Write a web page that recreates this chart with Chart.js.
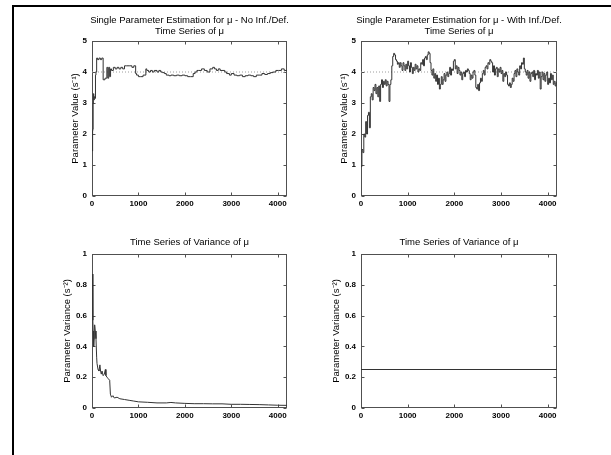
<!DOCTYPE html>
<html>
<head>
<meta charset="utf-8">
<script src="https://cdn.jsdelivr.net/npm/chart.js@4/dist/chart.umd.min.js"></script>
<style>
  html, body { margin: 0; padding: 0; background: #fff; }
  body { width: 611px; height: 455px; position: relative; overflow: hidden; }
  #frame { position: absolute; left: 12px; top: 5px; width: 640px; height: 480px;
           border-top: 2px solid #000; border-left: 2px solid #000; }
  canvas { position: absolute; }
</style>
</head>
<body>
<div id="frame"></div>
<canvas id="muNoInfChart" width="287" height="220" style="left:20px;top:0px"></canvas>
<canvas id="muWithChart" width="288" height="220" style="left:289px;top:0px"></canvas>
<canvas id="varNoInfChart" width="287" height="220" style="left:20px;top:212px"></canvas>
<canvas id="varWithChart" width="288" height="220" style="left:289px;top:212px"></canvas>
<script>
// ---- estimated parameter mu, no inflation/deflation ----
const muNoInfTime = [10,13,17,25,30,40,50,65,75,85,
  100,120,150,180,210,240,280,320,340,360,
  380,400,420,460,500,540,580,620,660,700,
  740,800,860,900,940,960,1000,1040,1100,1160,
  1180,1220,1260,1300,1340,1400,1440,1480,1520,1560,
  1600,1660,1700,1760,1820,1880,1940,2000,2060,2120,
  2180,2220,2260,2300,2360,2420,2480,2540,2600,2640,
  2680,2720,2760,2800,2860,2900,2960,3000,3060,3120,
  3180,3240,3300,3360,3420,3480,3540,3600,3660,3720,
  3780,3840,3900,3960,4020,4080,4140,4200];
const muNoInf = [1.5,1.45,2.1,2.15,3.0,3.3,3.1,3.2,3.15,3.9,
  4.0,4.45,4.4,4.45,4.4,4.45,3.75,3.8,4.15,3.8,
  4.15,3.85,4.1,4.05,4.15,4.1,4.15,4.1,4.15,4.1,
  4.2,4.2,4.2,4.15,4.2,3.95,3.9,3.85,3.85,3.9,
  4.1,4.05,4.0,4.05,4.0,4.05,4.0,4.05,4.0,3.98,
  3.95,3.9,3.88,3.9,3.88,3.9,3.88,3.9,3.88,3.85,
  3.85,3.95,4.0,4.05,4.05,4.1,4.05,4.0,4.1,4.15,
  4.1,4.05,4.1,4.05,4.05,4.0,3.95,3.9,3.95,3.9,
  3.88,3.9,3.85,3.88,3.9,3.88,3.85,3.9,3.9,3.95,
  3.92,3.95,3.98,4.0,4.05,4.05,4.1,4.05];

// ---- estimated parameter mu, with inflation/deflation (one sample every 20 s) ----
const muWithStep = 20;
const muWith = [1.0,0.95,1.5,1.4,2.0,1.9,2.4,2.0,2.6,2.7,
  2.2,3.2,3.3,3.1,3.5,3.4,3.6,3.3,3.5,3.2,
  3.55,3.05,3.6,3.75,3.5,3.7,3.6,3.75,3.55,3.7,
  3.6,3.05,3.6,3.75,4.2,4.5,4.6,4.55,4.4,4.35,
  4.25,4.3,4.15,4.3,4.2,4.05,4.3,4.2,4.05,4.25,
  4.1,4.35,4.2,4.0,4.3,4.15,3.95,4.15,4.05,4.25,
  4.1,4.2,4.0,4.1,4.05,4.3,4.25,4.4,4.2,4.45,
  4.5,4.4,4.55,4.65,4.6,4.3,4.05,3.9,4.1,3.8,
  3.95,3.7,3.9,3.6,3.8,3.45,3.6,3.85,3.6,3.75,
  3.95,3.7,3.9,4.0,3.85,3.95,4.15,3.9,4.1,4.05,
  4.35,4.4,4.1,4.2,3.95,4.15,4.05,3.9,4.0,3.75,
  3.95,4.0,3.85,4.05,4.0,4.1,4.05,3.95,3.75,3.9,
  3.8,4.0,4.05,3.9,3.5,3.45,3.6,3.4,3.65,3.8,
  3.7,3.95,4.05,3.9,4.15,4.2,4.1,4.3,4.25,4.4,
  4.35,4.3,4.0,4.2,3.9,4.1,4.15,3.85,4.1,4.0,
  4.15,3.95,4.05,3.7,3.95,3.85,4.0,3.9,3.6,3.55,
  3.65,3.5,3.6,3.8,3.7,3.95,4.05,3.85,4.1,4.0,
  3.9,4.2,4.1,4.3,4.25,4.45,4.1,4.0,3.9,4.05,
  3.8,4.0,3.7,3.95,4.0,3.85,4.05,3.75,3.95,3.9,
  4.05,3.8,4.0,3.45,3.85,4.0,3.75,3.95,3.7,3.9,
  4.0,3.6,3.8,3.65,3.95,3.75,3.9,3.6,3.7,3.55,
  3.65];
const muWithTime = muWith.map((_, i) => i * muWithStep);

// ---- parameter variance ----
const varNoInfTime = [12,16,20,25,36,46,57,70,86,100,
  108,130,150,170,185,200,216,240,265,288,
  300,324,350,381,396,420,450,480,540,600,
  700,800,900,1000,1200,1400,1600,1700,1800,2000,
  2200,2400,2600,2800,3000,3200,3400,3600,3800,4000,
  4200];
const varNoInf = [0.87,0.8,0.57,0.5,0.40,0.45,0.54,0.50,0.45,0.33,
  0.29,0.25,0.24,0.28,0.24,0.22,0.24,0.21,0.22,0.25,
  0.21,0.2,0.19,0.18,0.09,0.07,0.08,0.065,0.07,0.06,
  0.055,0.05,0.045,0.04,0.037,0.033,0.033,0.036,0.033,0.03,
  0.028,0.028,0.027,0.027,0.024,0.024,0.023,0.022,0.02,0.018,
  0.017];
const varWithTime = [0, 4200];
const varWith = [0.25, 0.25];

// ---- axes and labels ----
const timeRange = [0, 4200];
const timeTicks = [0, 1000, 2000, 3000, 4000];
const muRange = [0, 5];
const varRange = [0, 1];
const trueMu = 4;

const titleNoInf = ['Single Parameter Estimation for \u03bc - No Inf./Def.', 'Time Series of \u03bc'];
const titleWith = ['Single Parameter Estimation for \u03bc - With Inf./Def.', 'Time Series of \u03bc'];
const titleVar = ['Time Series of Variance of \u03bc'];
const yLabelMu = 'Parameter Value (s\u207b\u00b9)';
const yLabelVar = 'Parameter Variance (s\u207b\u00b2)';

const FONT = "'Liberation Sans', Arial, Helvetica, sans-serif";

function points(xs, ys) { return xs.map((x, i) => ({ x, y: ys[i] })); }
function plainNumber(v) { return String(Number(Number(v).toFixed(3))); }

// box around the plot area with inward tick marks on all four sides (under the data),
// and the title lines above the plot
const boxedAxes = {
  id: 'boxedAxes',
  beforeDatasetsDraw(chart) {
    const { ctx, chartArea: a, scales } = chart;
    ctx.save();
    ctx.strokeStyle = '#505050';
    ctx.lineWidth = 1;
    const L = Math.round(a.left) + 0.5, R = Math.round(a.right) - 0.5;
    const T = Math.round(a.top) + 0.5, B = Math.round(a.bottom) - 0.5;
    ctx.strokeRect(L, T, R - L, B - T);
    ctx.beginPath();
    scales.x.ticks.forEach(t => {
      const px = Math.round(scales.x.getPixelForValue(t.value)) + 0.5;
      ctx.moveTo(px, B); ctx.lineTo(px, B - 3);
      ctx.moveTo(px, T); ctx.lineTo(px, T + 3);
    });
    scales.y.ticks.forEach(t => {
      const py = Math.round(scales.y.getPixelForValue(t.value)) + 0.5;
      ctx.moveTo(L, py); ctx.lineTo(L + 3, py);
      ctx.moveTo(R, py); ctx.lineTo(R - 3, py);
    });
    ctx.stroke();
    ctx.restore();
  },
  afterDraw(chart, args, opts) {
    const { ctx, chartArea: a } = chart;
    ctx.save();
    ctx.fillStyle = '#000';
    ctx.font = '9.5px ' + FONT;
    ctx.textAlign = 'center';
    ctx.textBaseline = 'middle';
    const cx = (a.left + a.right) / 2;
    opts.lines.forEach((s, i) => ctx.fillText(s, cx, opts.y[i]));
    ctx.restore();
  }
};

function makeChart(id, cfg) {
  const datasets = [{
    data: points(cfg.time, cfg.values),
    borderColor: '#333',
    borderWidth: 1,
    pointRadius: 0,
    stepped: cfg.stepped ? 'after' : false,
    tension: 0,
    order: 0
  }];
  if (cfg.refLevel !== undefined) {
    datasets.push({
      data: points(timeRange, [cfg.refLevel, cfg.refLevel]),
      borderColor: '#9c9c9c',
      borderWidth: 1,
      borderDash: [1, 2],
      pointRadius: 0,
      order: 1
    });
  }
  return new Chart(document.getElementById(id), {
    type: 'line',
    data: { datasets },
    plugins: [boxedAxes],
    options: {
      responsive: false,
      animation: false,
      devicePixelRatio: 1,
      layout: { padding: { left: 0, right: 20, top: cfg.padTop, bottom: 0 } },
      plugins: {
        legend: { display: false },
        tooltip: { enabled: false },
        boxedAxes: { lines: cfg.title, y: cfg.titleY }
      },
      scales: {
        x: {
          type: 'linear',
          min: timeRange[0], max: timeRange[1],
          afterFit(s) { s.height = 24; },
          afterBuildTicks(s) { s.ticks = timeTicks.map(v => ({ value: v })); },
          grid: { display: false, drawTicks: false },
          border: { display: false },
          ticks: {
            color: '#000', padding: 3, maxRotation: 0, autoSkip: false,
            includeBounds: false,
            font: { family: FONT, size: 8, weight: 'bold' },
            callback: plainNumber
          }
        },
        y: {
          type: 'linear',
          min: cfg.yRange[0], max: cfg.yRange[1],
          afterFit(s) { s.width = 72; },
          grid: { display: false, drawTicks: false },
          border: { display: false },
          ticks: {
            color: '#000', padding: 5, stepSize: cfg.yStep, autoSkip: false,
            font: { family: FONT, size: 8, weight: 'bold' },
            callback: plainNumber
          },
          title: {
            display: true, text: cfg.yLabel, color: '#000',
            font: { family: FONT, size: 9.5 },
            padding: { top: cfg.yLabelPad, bottom: 0 }
          }
        }
      }
    }
  });
}

makeChart('muNoInfChart', {
  time: muNoInfTime, values: muNoInf, stepped: true, refLevel: trueMu,
  yRange: muRange, yStep: 1, yLabel: yLabelMu, yLabelPad: 49.3,
  title: titleNoInf, titleY: [20.8, 31.3], padTop: 41
});
makeChart('muWithChart', {
  time: muWithTime, values: muWith, stepped: true, refLevel: trueMu,
  yRange: muRange, yStep: 1, yLabel: yLabelMu, yLabelPad: 49.3,
  title: titleWith, titleY: [20.8, 31.3], padTop: 41
});
makeChart('varNoInfChart', {
  time: varNoInfTime, values: varNoInf, stepped: false,
  yRange: varRange, yStep: 0.2, yLabel: yLabelVar, yLabelPad: 41.3,
  title: titleVar, titleY: [30.7], padTop: 42
});
makeChart('varWithChart', {
  time: varWithTime, values: varWith, stepped: false,
  yRange: varRange, yStep: 0.2, yLabel: yLabelVar, yLabelPad: 41.3,
  title: titleVar, titleY: [30.7], padTop: 42
});
</script>
</body>
</html>
